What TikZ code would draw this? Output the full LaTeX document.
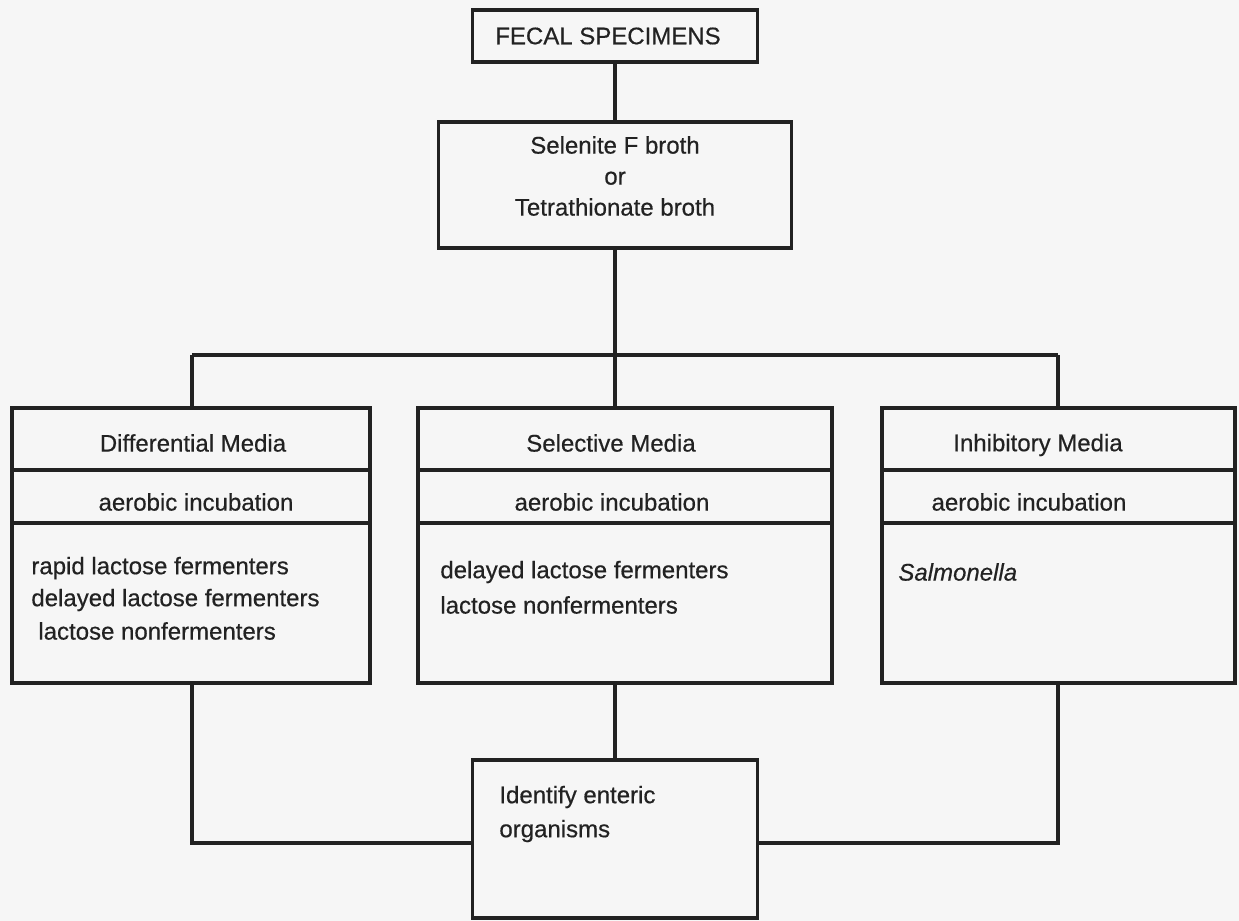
\documentclass[tikz,border=0pt]{standalone}
\usepackage{fontspec}
\setmainfont{Liberation Sans}[FakeBold=0.5]
\newfontfamily\medfont{Liberation Sans}[FakeBold=0.5]
\definecolor{ink}{HTML}{222222}
\definecolor{paper}{HTML}{F6F6F6}
\begin{document}
\begin{tikzpicture}[x=0.5pt,y=-0.5pt,
  every node/.style={font=\medfont\fontsize{12}{15}\selectfont, text=ink},
  box/.style={draw=ink, line width=1.6pt, rectangle, inner sep=0pt},
  lbl/.style={inner sep=0pt, anchor=west, align=left},
  conn/.style={draw=ink, line width=1.6pt}]
\fill[paper] (0,0) rectangle (1239,921);
\useasboundingbox (0,0) rectangle (1239,921);
% top boxes
\node[box, minimum width=142.5pt, minimum height=26pt] (fecal) at (615,36) {};
\node (fecalt) at (608,36) {FECAL SPECIMENS};
\node[box, minimum width=176.5pt, minimum height=63pt] (sel) at (615,185) {};
\node[align=center, inner sep=0pt] (selt) at (615,176) {Selenite F broth\\[0.5pt] or\\[0.5pt] Tetrathionate broth};
% left compartment box
\node[box, minimum width=179pt, minimum height=31pt] (Lt) at (191,439) {};
\node[box, minimum width=179pt, minimum height=26.5pt] (Li) at (191,496.5) {};
\node[box, minimum width=179pt, minimum height=80pt] (Lb) at (191,603) {};
\node (Ltt) at (193,443) {Differential Media};
\node (Lit) at (196,502) {aerobic incubation};
\node[lbl] (Lb1) at (31,568) {rapid lactose fermenters};
\node[lbl] (Lb2) at (31,600) {delayed lactose fermenters};
\node[lbl] (Lb3) at (38,631) {lactose nonfermenters};
% middle
\node[box, minimum width=207pt, minimum height=31pt] (Mt) at (625,439) {};
\node[box, minimum width=207pt, minimum height=26.5pt] (Mi) at (625,496.5) {};
\node[box, minimum width=207pt, minimum height=80pt] (Mb) at (625,603) {};
\node (Mtt) at (611,443) {Selective Media};
\node (Mit) at (612,502) {aerobic incubation};
\node[lbl] (Mb1) at (440,572) {delayed lactose fermenters};
\node[lbl] (Mb2) at (440,605) {lactose nonfermenters};
% right
\node[box, minimum width=176.5pt, minimum height=31pt] (Rt) at (1058.5,439) {};
\node[box, minimum width=176.5pt, minimum height=26.5pt] (Ri) at (1058.5,496.5) {};
\node[box, minimum width=176.5pt, minimum height=80pt] (Rb) at (1058.5,603) {};
\node (Rtt) at (1038,445) {Inhibitory Media};
\node (Rit) at (1029,502) {aerobic incubation};
\node[lbl] (Rb1) at (898,572) {\itshape Salmonella};
% bottom
\node[box, minimum width=142.5pt, minimum height=79pt] (id) at (615,839) {};
\node[lbl] (idt) at (499,814) {Identify enteric\\[2pt] organisms};
% connectors
\coordinate (jl) at (192,355);
\coordinate (jr) at (1058,355);
\coordinate (jm) at (615,355);
\coordinate (bj) at (615,843);
\draw[conn] (fecal.south) -- (sel.north);
\draw[conn] (sel.south) -- (jm);
\draw[conn] (jl) -- (jr);
\draw[conn] (jl) -- (jl |- Lt.north);
\draw[conn] (jm) -- (jm |- Mt.north);
\draw[conn] (jr) -- (jr |- Rt.north);
\draw[conn] (jl |- Lb.south) -- (jl |- bj) -- (id.west |- bj);
\draw[conn] (jm |- Mb.south) -- (id.north);
\draw[conn] (jr |- Rb.south) -- (jr |- bj) -- (id.east |- bj);
\end{tikzpicture}
\end{document}
